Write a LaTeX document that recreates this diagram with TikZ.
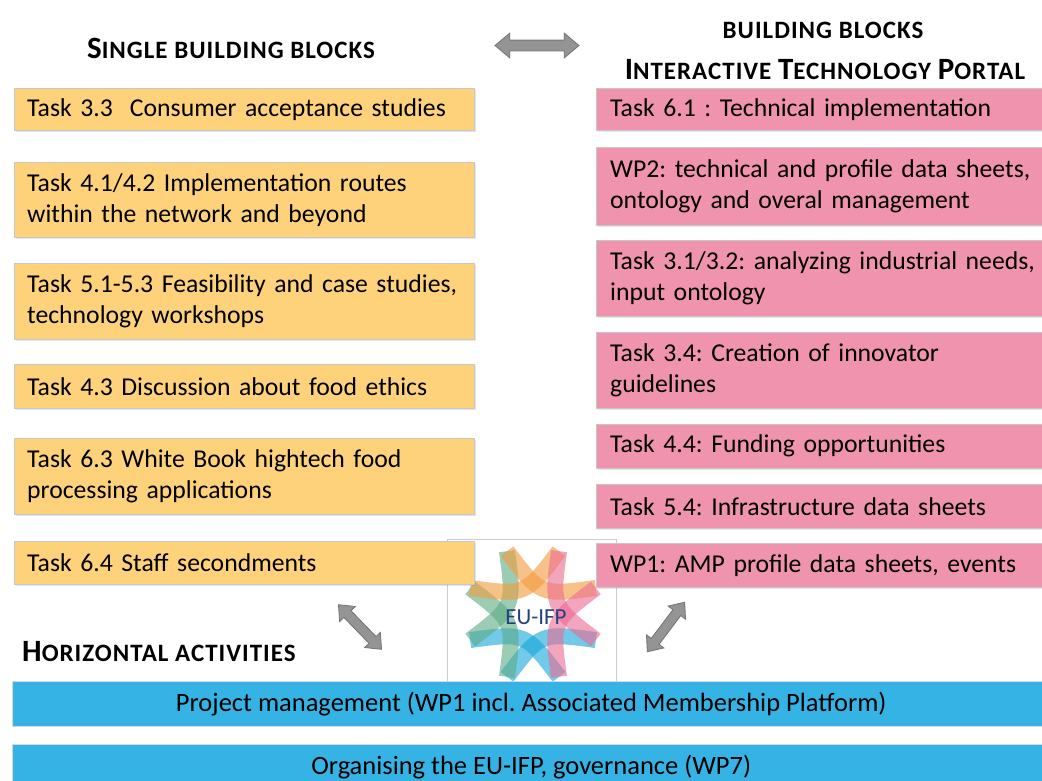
\documentclass[tikz,border=0pt]{standalone}
\usepackage{fontspec}
\setmainfont{Carlito}
\usetikzlibrary{shapes.arrows,shadows}
\definecolor{taskorange}{HTML}{FDD27B}
\definecolor{portalpink}{HTML}{F093AE}
\definecolor{barblue}{HTML}{35B3E4}
\definecolor{logonavy}{HTML}{24427F}
\definecolor{logoorange}{HTML}{F39A3A}
\definecolor{logopink}{HTML}{EC6A92}
\definecolor{logocyan}{HTML}{14A6DA}
\definecolor{logogreen}{HTML}{5DAA84}
\newcommand{\headbig}[1]{{\fontsize{31}{36}\selectfont #1}}
\newcommand{\headsmall}[1]{{\fontsize{25}{30}\selectfont #1}}
\frenchspacing
\begin{document}
\begin{tikzpicture}
[
    x=1pt, y=-1pt,
    task/.style={draw=black!22, fill=taskorange, anchor=north west, text width=434pt, inner xsep=13pt, inner ysep=0pt, align=left, font=\fontsize{25.7}{31}\selectfont, drop shadow={shadow xshift=1.5pt, shadow yshift=-1.5pt, opacity=0.2}},
    portal/.style={task, fill=portalpink, text width=432pt, inner xsep=14pt},
    bar/.style={draw=black!15, fill=barblue, anchor=north west, minimum width=1038pt, inner sep=0pt, font=\fontsize{26.5}{31}\selectfont},
    head/.style={font={\bfseries\addfontfeatures{LetterSpace=4}}, inner sep=0pt, anchor=base},
    link/.style={double arrow, fill=black!42, draw=black!55, line width=0.8pt, inner sep=5pt, double arrow head extend=7pt, double arrow tip angle=80, minimum height=#1},
    band/.style={line width=16pt, opacity=0.6},
]
\useasboundingbox (0,0) rectangle (1042,780);

% headers
\node[head] (single) at (231,58) {\headbig{S}\headsmall{INGLE BUILDING BLOCKS}};
\node[head] (blocks) at (823,38) {\headsmall{BUILDING BLOCKS}};
\node[head] (portal) at (825,79) {\headbig{I}\headsmall{NTERACTIVE }\headbig{T}\headsmall{ECHNOLOGY }\headbig{P}\headsmall{ORTAL}};
\node[head, anchor=base west] (horiz) at (22,661) {\headbig{H}\headsmall{ORIZONTAL ACTIVITIES}};

% logo
\node[draw=black!20, fill=white, minimum width=169pt, minimum height=142pt] (logo) at (531.5,610) {};
\begin{scope}[shift={(533,614)}]
\foreach \a/\c in {22.5/logocyan, 67.5/logocyan, 112.5/logogreen, 157.5/logogreen, 202.5/logoorange, 247.5/logoorange, 292.5/logopink, 337.5/logopink}
    \draw[band, draw=\c] (\a:68) .. controls (\a+45:20) .. (\a+90:68);
\end{scope}
\node[font=\fontsize{23}{26}\selectfont, text=logonavy, inner sep=0pt] (eu) at (536,617) {EU-IFP};

% single building blocks
\node[task, minimum height=42pt] (t33) at (14,88) {Task 3.3\ \ Consumer acceptance studies};
\node[task, minimum height=75pt] (t41) at (14,162) {Task 4.1/4.2 Implementation routes\\within the network and beyond};
\node[task, minimum height=76pt] (t51) at (14,263) {Task 5.1-5.3 Feasibility and case studies,\\technology workshops};
\node[task, minimum height=44pt] (t43) at (14,364) {Task 4.3 Discussion about food ethics};
\node[task, minimum height=76pt] (t63) at (14,438) {Task 6.3 White Book hightech food\\processing applications};
\node[task, minimum height=43pt] (t64) at (14,541) {Task 6.4 Staff secondments};

% interactive technology portal
\node[portal, minimum height=42pt] (t61) at (596,88) {Task 6.1 : Technical implementation};
\node[portal, minimum height=78pt] (wp2) at (596,147) {WP2: technical and profile data sheets,\\ontology and overal management};
\node[portal, minimum height=76pt] (t31) at (596,240) {Task 3.1/3.2: analyzing industrial needs,\\input ontology};
\node[portal, minimum height=76pt] (t34) at (596,332) {Task 3.4: Creation of innovator\\guidelines};
\node[portal, minimum height=44pt] (t44) at (596,424) {Task 4.4: Funding opportunities};
\node[portal, minimum height=44pt] (t54) at (596,484) {Task 5.4: Infrastructure data sheets};
\node[portal, minimum height=44pt] (wp1) at (596,543) {WP1: AMP profile data sheets, events};

% arrows
\node[link=84pt] (swap) at (537,45.5) {};
\node[link=62pt, rotate=-46, inner sep=4.5pt, double arrow head extend=6pt] (leftlink) at (360,627) {};
\node[link=62pt, rotate=53, inner sep=4.5pt, double arrow head extend=6pt] (rightlink) at (666,627) {};

% horizontal activities
\node[bar, minimum height=45pt] (mgmt) at (12,681) {Project management (WP1 incl. Associated Membership Platform)};
\node[bar, minimum height=45pt] (gov) at (12,744) {Organising the EU-IFP, governance (WP7)};
\end{tikzpicture}
\end{document}
